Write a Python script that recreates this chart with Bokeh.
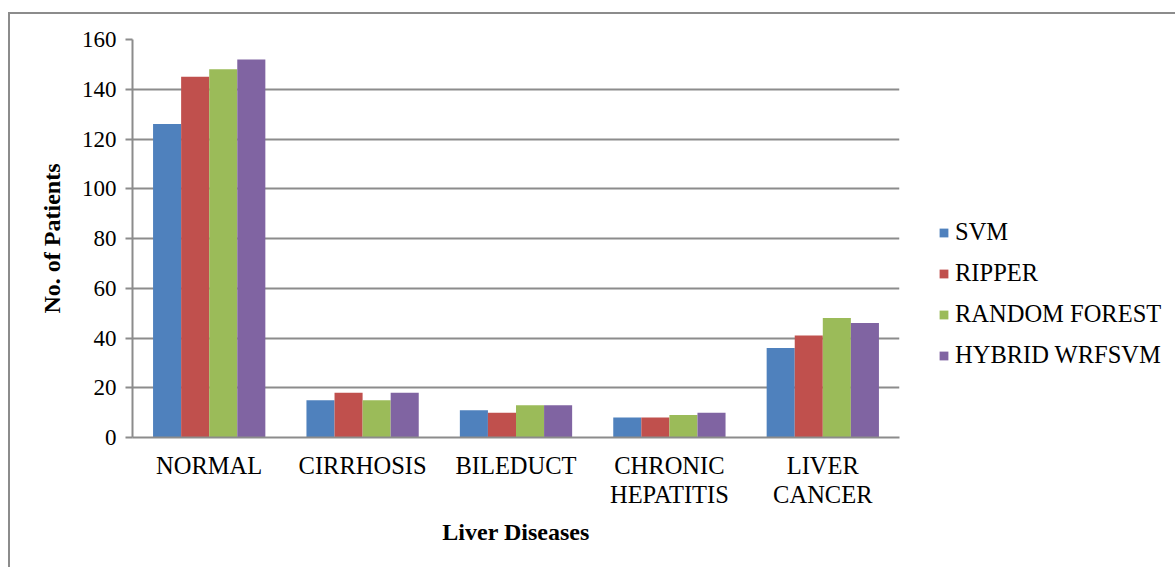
from bokeh.plotting import figure
from bokeh.models import ColumnDataSource, FactorRange, Legend, LegendItem, FixedTicker
from bokeh.transform import dodge
from bokeh.embed import file_html
from bokeh.resources import INLINE

# ---- data ----
diseases = ["NORMAL", "CIRRHOSIS", "BILEDUCT", "CHRONIC\nHEPATITIS", "LIVER\nCANCER"]
series_names = ["SVM", "RIPPER", "RANDOM FOREST", "HYBRID WRFSVM"]
svm = [126, 15, 11, 8, 36]
ripper = [145, 18, 10, 8, 41]
random_forest = [148, 15, 13, 9, 48]
hybrid_wrfsvm = [152, 18, 13, 10, 46]
y_ticks = [0, 20, 40, 60, 80, 100, 120, 140, 160]

colors = ["#4F81BD", "#C0504D", "#9BBB59", "#8064A2"]
keys = ["svm", "ripper", "rf", "hybrid"]

src = ColumnDataSource(dict(disease=diseases, svm=svm, ripper=ripper,
                            rf=random_forest, hybrid=hybrid_wrfsvm))

GRAY = "#8c8c8c"
SERIF = "Liberation Serif"

p = figure(x_range=FactorRange(*diseases), y_range=(0, 160),
           frame_width=767, frame_height=398, output_backend="svg", toolbar_location=None,
           min_border_left=122, min_border_top=25, min_border_right=40,
           min_border_bottom=130,
           styles={"margin-left": "8px", "margin-top": "12px",
                   "border-left": "2px solid #8c8c8c", "border-top": "2px solid #8c8c8c"})
p.x_range.range_padding = 0
p.outline_line_color = None
p.background_fill_color = "white"
p.border_fill_color = "white"

bar_w = 0.183
offsets = [-1.5 * bar_w, -0.5 * bar_w, 0.5 * bar_w, 1.5 * bar_w]
renderers = []
for k, off, c in zip(keys, offsets, colors):
    r = p.vbar(x=dodge("disease", off, range=p.x_range), top=k, bottom=0,
               width=bar_w, source=src, fill_color=c, line_color=None)
    renderers.append(r)

# grid
p.xgrid.grid_line_color = None
p.ygrid.grid_line_color = GRAY
p.ygrid.grid_line_width = 2

# y axis
p.yaxis.ticker = FixedTicker(ticks=y_ticks)
p.yaxis.axis_line_color = GRAY
p.yaxis.axis_line_width = 2
p.yaxis.major_tick_line_color = GRAY
p.yaxis.major_tick_line_width = 2
p.yaxis.major_tick_out = 7
p.yaxis.major_tick_in = 0
p.yaxis.minor_tick_line_color = None
p.yaxis.major_label_text_font = SERIF
p.yaxis.major_label_text_font_size = "23px"
p.yaxis.major_label_text_color = "black"
p.yaxis.major_label_standoff = 9
p.yaxis.axis_label = "No. of Patients"
p.yaxis.axis_label_text_font = SERIF
p.yaxis.axis_label_text_font_style = "bold"
p.yaxis.axis_label_text_font_size = "24px"
p.yaxis.axis_label_text_color = "black"
p.yaxis.axis_label_standoff = 14

# x axis
p.xaxis.axis_line_color = GRAY
p.xaxis.axis_line_width = 2
p.xaxis.major_tick_line_color = None
p.xaxis.minor_tick_line_color = None
p.xaxis.major_tick_out = 0
p.xaxis.major_tick_in = 0
p.xaxis.major_label_text_font = SERIF
p.xaxis.major_label_text_font_size = "24.5px"
p.xaxis.major_label_text_color = "black"
p.xaxis.major_label_text_line_height = 1.08
p.xaxis.major_label_standoff = 14
p.xaxis.axis_label = "Liver Diseases"
p.xaxis.axis_label_text_font = SERIF
p.xaxis.axis_label_text_font_style = "bold"
p.xaxis.axis_label_text_font_size = "24px"
p.xaxis.axis_label_text_color = "black"
p.xaxis.axis_label_standoff = 8

legend = Legend(items=[LegendItem(label=n, renderers=[r]) for n, r in zip(series_names, renderers)],
                location=(39, 68), orientation="vertical",
                label_text_font=SERIF, label_text_font_size="24.5px",
                label_text_color="black",
                glyph_width=11, glyph_height=11, label_standoff=6,
                label_height=28, spacing=13, padding=0, margin=0,
                border_line_color=None, background_fill_alpha=0)
p.add_layout(legend, "right")

open("out.html", "w").write(file_html(p, INLINE))
